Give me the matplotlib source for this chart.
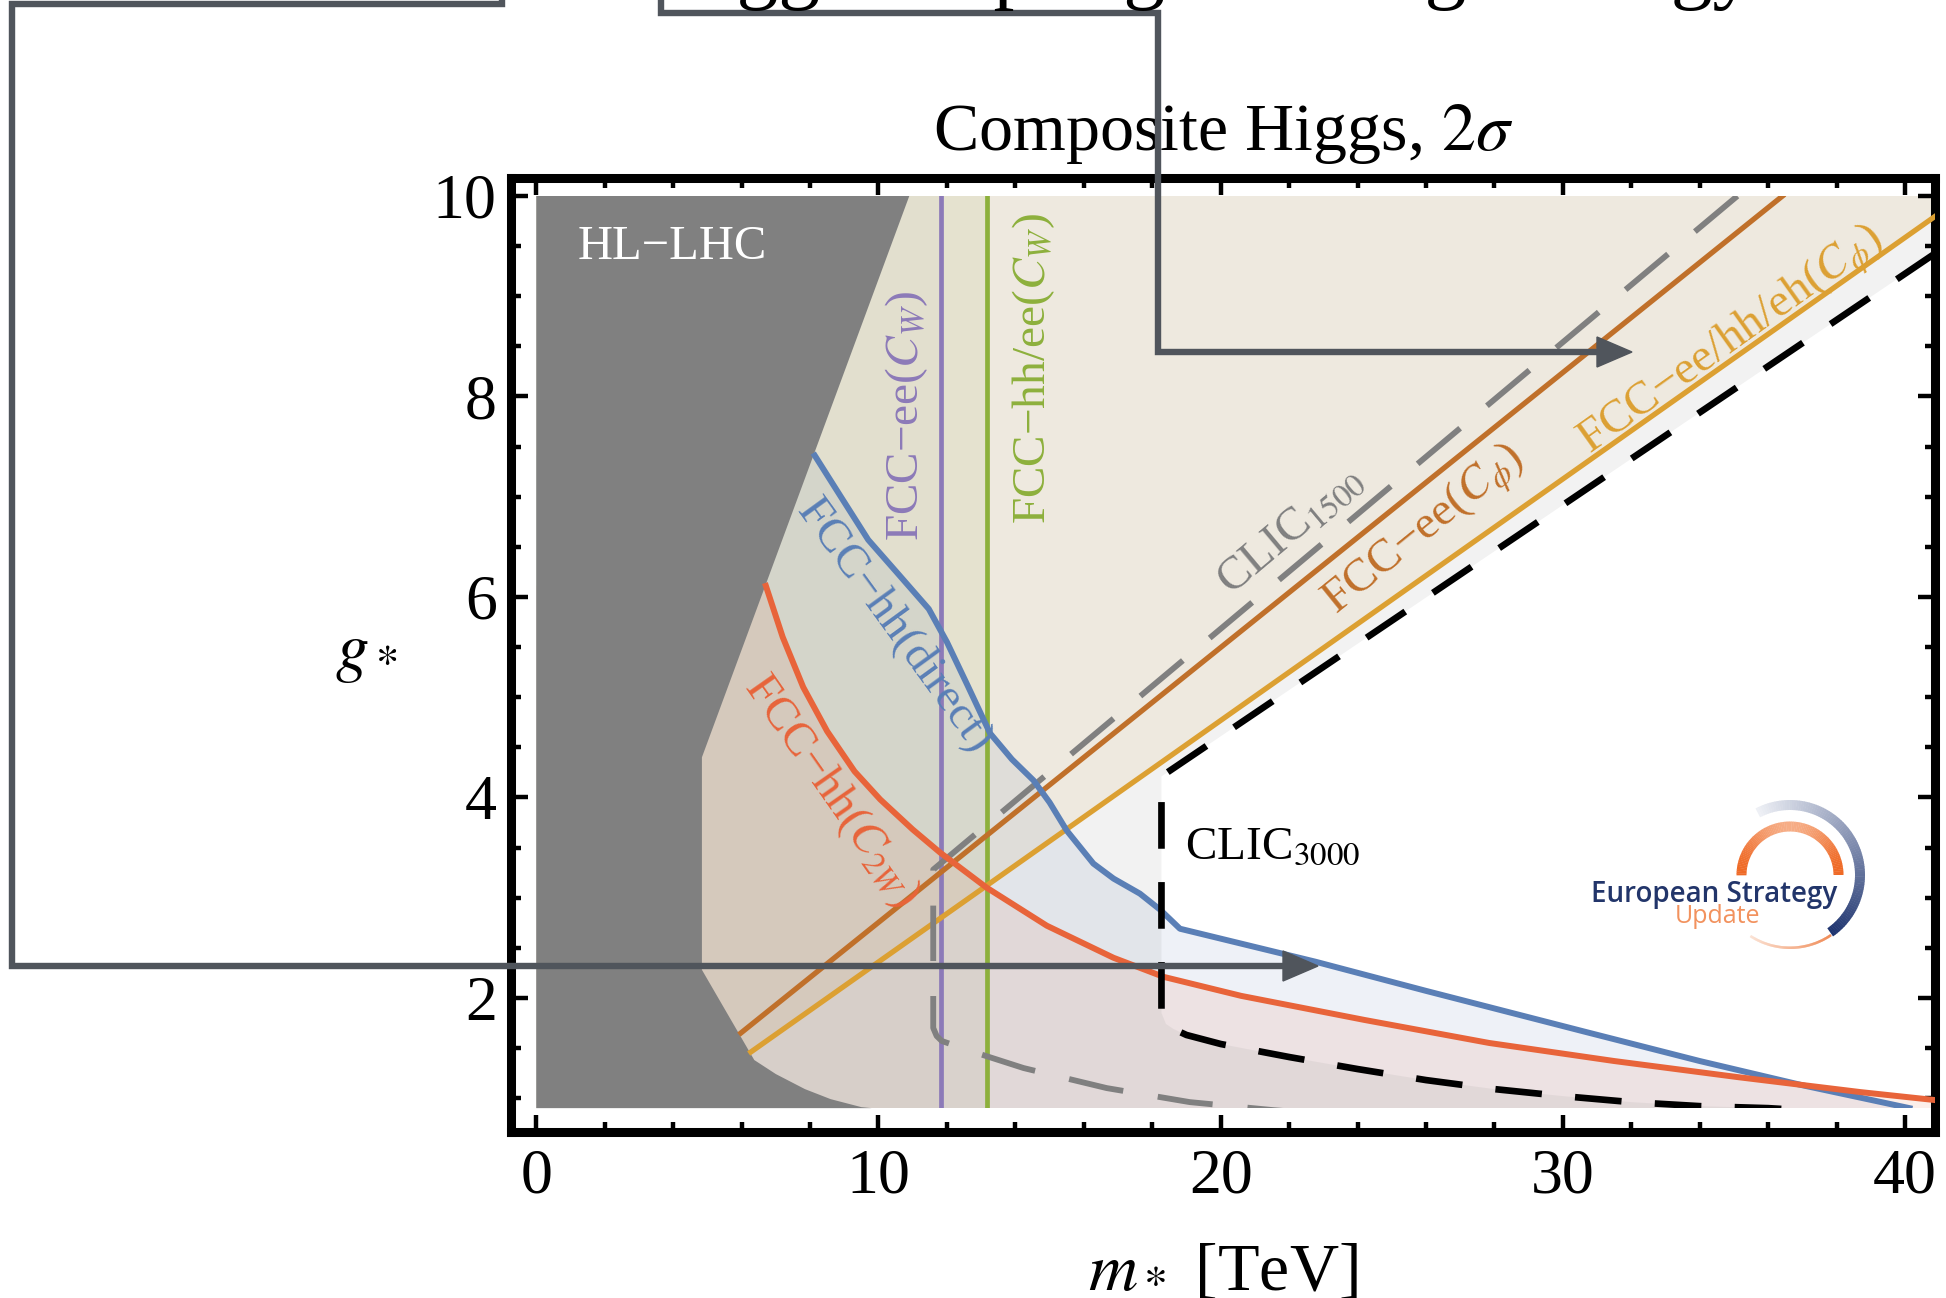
import numpy as np
import matplotlib.pyplot as plt
import matplotlib.colors as mcolors
from matplotlib.patches import Polygon, Rectangle, Wedge, PathPatch
from matplotlib.path import Path

plt.rcParams['font.family'] = ['Liberation Serif', 'DejaVu Serif']
plt.rcParams['mathtext.fontset'] = 'stix'

# ---- values (m* in TeV, g*) ----
hl_lhc_x = [0.0, 10.9, 4.84, 4.84, 6.37, 7.0, 7.85, 8.6, 9.5, 9.8, 0.0]
hl_lhc_y = [10.0, 10.0, 4.40, 2.28, 1.38, 1.24, 1.09, 0.99, 0.91, 0.90, 0.90]

direct_x = [8.14, 8.9, 9.70, 10.6, 11.47, 12.0, 12.6, 13.26, 13.9, 14.53, 15.0, 15.5,
            16.28, 16.87, 17.64, 18.23, 18.81, 22.78, 26.0, 30.67, 34.0, 36.98, 40.13]
direct_y = [7.41, 7.0, 6.57, 6.22, 5.88, 5.55, 5.12, 4.64, 4.38, 4.17, 3.95, 3.67,
            3.34, 3.19, 3.04, 2.88, 2.69, 2.36, 2.07, 1.66, 1.37, 1.13, 0.90]

c2w_x = [6.71, 7.2, 7.8, 8.5, 9.3, 10.05, 11.0, 11.8, 13.16, 14.92, 16.87, 18.33,
         20.6, 24.2, 27.85, 31.5, 35.1, 38.7, 40.89]
c2w_y = [6.11, 5.60, 5.10, 4.66, 4.26, 3.98, 3.68, 3.45, 3.10, 2.72, 2.40, 2.21,
         2.02, 1.78, 1.55, 1.37, 1.21, 1.06, 0.98]

cphi_ee_x = [5.98, 36.42]
cphi_ee_y = [1.65, 10.0]
cphi_all_x = [6.27, 40.89]
cphi_all_y = [1.46, 9.80]

cw_ee = 11.82
cw_hh = 13.16

clic3000_x = [40.89, 18.27, 18.27, 18.4, 18.62, 19.0, 20.0, 22.0, 24.0, 26.0, 28.0,
              30.0, 32.0, 34.0, 36.0, 37.0]
clic3000_y = [9.43, 4.21, 1.85, 1.74, 1.69, 1.63, 1.54, 1.41, 1.29, 1.18, 1.09,
              1.02, 0.96, 0.92, 0.90, 0.88]

clic1500_x = [35.1, 11.6, 11.6, 11.7, 11.85, 12.78, 14.24, 16.67, 19.10, 21.54, 23.0]
clic1500_y = [10.0, 3.28, 1.70, 1.62, 1.57, 1.46, 1.30, 1.10, 0.96, 0.88, 0.84]

xticks = [0, 10, 20, 30, 40]
yticks = [2, 4, 6, 8, 10]

c_blue = '#5a7fb6'
c_red = '#e8643a'
c_brown = '#c0702a'
c_yellow = '#dca032'
c_purple = '#8c7ab8'
c_green = '#8db03c'
c_dark = '#50555c'

fig = plt.figure(figsize=(19.46, 12.98), dpi=100)
ax = fig.add_axes([0.2624, 0.1282, 0.7322, 0.7347])
ax.set_xlim(-0.75, 40.89)
ax.set_ylim(0.666, 10.18)

clip = Rectangle((0, 0.9), 40.89, 9.1, transform=ax.transData)


def shade(xs, ys, color, alpha):
    p = ax.fill(xs, ys, color=color, alpha=alpha, lw=0, zorder=1)[0]
    p.set_clip_path(clip)


# translucent exclusion regions
shade([0, cw_ee, cw_ee, 0], [0.9, 0.9, 10, 10], c_purple, 0.03)
shade([0, cw_hh, cw_hh, 0], [0.9, 0.9, 10, 10], c_green, 0.09)
shade([0] + cphi_all_x + [40.89, 0], [cphi_all_y[0]] + cphi_all_y + [10, 10], c_yellow, 0.1)
shade([0] + direct_x + [0], [direct_y[0]] + direct_y + [0.9], c_blue, 0.1)
shade([0] + c2w_x + [40.89, 0], [c2w_y[0]] + c2w_y + [0.9, 0.9], c_red, 0.1)

# CLIC3000: everything outside its open wedge (wedge = hole, reversed winding)
outer = [(0, 0.9), (41, 0.9), (41, 10), (0, 10), (0, 0.9)]
hole = (list(zip(clic3000_x, clic3000_y)) + [(41, 0.85), (41, clic3000_y[0])])[::-1]
verts = outer + hole + [hole[0]]
codes = ([Path.MOVETO] + [Path.LINETO] * 3 + [Path.CLOSEPOLY] +
         [Path.MOVETO] + [Path.LINETO] * (len(hole) - 1) + [Path.CLOSEPOLY])
pp = PathPatch(Path(verts, codes), fc='0.5', alpha=0.1, lw=0, zorder=1)
ax.add_patch(pp)
pp.set_clip_path(clip)

ax.fill(hl_lhc_x, hl_lhc_y, color='#808080', lw=0, zorder=2)

lines = []
lines += ax.plot([cw_ee, cw_ee], [0.9, 10], color=c_purple, lw=3.4, zorder=3)
lines += ax.plot([cw_hh, cw_hh], [0.9, 10], color=c_green, lw=3.4, zorder=3)
lines += ax.plot(cphi_ee_x, cphi_ee_y, color=c_brown, lw=3.8, zorder=3)
lines += ax.plot(cphi_all_x, cphi_all_y, color=c_yellow, lw=3.8, zorder=3)
lines += ax.plot(clic1500_x, clic1500_y, color='#808080', lw=4.2, dashes=(9.5, 6), zorder=3)
lines += ax.plot(direct_x, direct_y, color=c_blue, lw=4.3, zorder=4)
lines += ax.plot(c2w_x, c2w_y, color=c_red, lw=4.3, zorder=4)
lines += ax.plot(clic3000_x, clic3000_y, color='black', lw=4.8, dashes=(7, 5), zorder=4)
for ln in lines:
    ln.set_clip_path(clip)

# labels inside the plot
fs = 34
ax.text(1.2, 9.49, 'HL−LHC', color='white', fontsize=35, ha='left', va='center', zorder=5)
ax.text(10.81, 7.81, 'FCC−ee($C_W$)', color=c_purple, fontsize=fs, rotation=90,
        ha='center', va='center', zorder=5)
ax.text(14.54, 8.28, 'FCC−hh/ee($C_W$)', color=c_green, fontsize=fs, rotation=90,
        ha='center', va='center', zorder=5)
ax.text(10.48, 5.71, 'FCC−hh(direct)', color=c_blue, fontsize=fs, rotation=-54,
        ha='center', va='center', rotation_mode='anchor', zorder=5)
ax.text(8.62, 4.06, 'FCC−hh($C_{2W}$)', color=c_red, fontsize=fs, rotation=-55,
        ha='center', va='center', rotation_mode='anchor', zorder=5)
ax.text(22.05, 6.66, 'CLIC$_{1500}$', color='#808080', fontsize=fs, rotation=40,
        ha='center', va='center', rotation_mode='anchor', zorder=5)
ax.text(25.97, 6.66, 'FCC−ee($C_\\phi$)', color=c_brown, fontsize=fs, rotation=39,
        ha='center', va='center', rotation_mode='anchor', zorder=5)
ax.text(34.92, 8.55, 'FCC−ee/hh/eh($C_\\phi$)', color=c_yellow, fontsize=fs, rotation=35.5,
        ha='center', va='center', rotation_mode='anchor', zorder=5)
ax.text(18.97, 3.5, 'CLIC$_{3000}$', color='black', fontsize=fs, ha='left', va='center', zorder=5)

# frame and ticks
for s in ax.spines.values():
    s.set_linewidth(6.5)
ax.set_xticks(xticks)
ax.set_xticks([v for v in range(0, 41, 2) if v % 10], minor=True)
ax.set_yticks(yticks)
ax.set_yticks([v / 2 for v in range(2, 20) if v % 4], minor=True)
ax.tick_params(which='both', direction='in', top=True, right=True, width=3.2, labelsize=46)
ax.tick_params(which='major', length=12)
ax.tick_params(which='minor', length=7.5)
ax.tick_params(axis='x', pad=12)
ax.tick_params(axis='y', pad=10)

ax.set_title('Composite Higgs, $2\\sigma$', fontsize=49, pad=20)
ax.set_xlabel('$m_*$ [TeV]', fontsize=49, va='baseline')
ax.xaxis.set_label_coords(0.5, -0.1662)
ax.set_ylabel('$g_*$', fontsize=48, rotation=0, ha='center', va='center')
ax.yaxis.set_label_coords(-0.1015, 0.5)

# ---- logo (pixel coordinates, y up) ----
lg = fig.add_axes([1550 / 1946, 318 / 1298, 350 / 1946, 200 / 1298])
lg.set_xlim(1550, 1900)
lg.set_ylim(318, 518)
lg.axis('off')
lg.set_zorder(6)


def grad_arc(center, r, width, a0, a1, c0, c1, n=90, shape=None):
    c0 = np.array(mcolors.to_rgb(c0))
    c1 = np.array(mcolors.to_rgb(c1))
    angs = np.linspace(a0, a1, n + 1)
    for i in range(n):
        t = i / (n - 1)
        if shape is not None:
            t = shape(t)
        col = np.clip(c0 + (c1 - c0) * t, 0, 1)
        lg.add_patch(Wedge(center, r, angs[i], angs[i + 1] + 0.4, width=width,
                           fc=col, ec='none'))


cen = (1790, 423)
grad_arc(cen, 75, 10, -55, 117, '#1f3570', '#eef0f5')
grad_arc(cen, 53.5, 10, 0, 180, '#ef6a26', '#f6ad86', shape=lambda t: np.sin(np.pi * t) ** 2)
grad_arc(cen, 74, 2.5, -123, -56, '#fbe3d5', '#f08a55')
lg.text(1591, 396.3, 'European Strategy', fontsize=20, color='#22356a',
        family='Open Sans', weight='semibold', ha='left', va='baseline')
lg.text(1675, 374.7, 'Update', fontsize=18, color='#f2925e', family='Open Sans',
        ha='left', va='baseline')

# ---- overlay connectors (image pixel coordinates) ----
ov = fig.add_axes([0, 0, 1, 1])
ov.set_xlim(0, 1946)
ov.set_ylim(1298, 0)
ov.axis('off')
ov.set_zorder(10)
ov.plot([502, 502, 12, 12, 1285], [-10, 4, 4, 966, 966], color=c_dark, lw=4.6,
        solid_joinstyle='miter', solid_capstyle='butt')
ov.add_patch(Polygon([(1283, 951), (1318, 966), (1283, 981)], closed=True, color=c_dark))
ov.plot([661, 661, 1158, 1158, 1600], [-10, 13, 13, 352, 352], color=c_dark, lw=4.6,
        solid_joinstyle='miter', solid_capstyle='butt')
ov.add_patch(Polygon([(1597, 337), (1632, 352), (1597, 367)], closed=True, color=c_dark))

# heading above the picture: only its descenders reach into the frame
head = ov.text(653, -7, 'Higgs couplings and high energy', fontsize=60, color='black',
               ha='left', va='baseline')
fig.canvas.draw()
bb = head.get_window_extent()
# move it so the lowest ink (bbox bottom) sits 11 px below the top edge
shift = (1298 - 11) - bb.y0
head.set_position((653, -7 - shift))

fig.savefig('out.png', dpi=100)
